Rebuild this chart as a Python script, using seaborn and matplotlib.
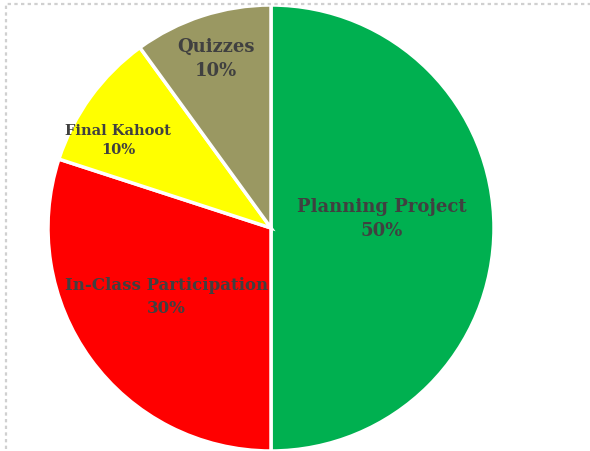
import numpy as np
import matplotlib.pyplot as plt
import seaborn as sns
from matplotlib.patches import Rectangle

# Grade breakdown
categories = ['Planning Project', 'In-Class Participation', 'Final Kahoot', 'Quizzes']
shares     = [50, 30, 10, 10]
colors     = ['#00B050', '#FF0000', '#FFFF00', '#9A9862']

# label placement (radius, angle shift in deg, font size) per slice
label_pos = [(0.50, 5, 13), (0.56, -3, 12), (0.79, 6, 10.5), (0.80, 0, 13)]

sns.set_theme(style='white')
plt.rcParams['font.family'] = ['DejaVu Serif']

fig = plt.figure(figsize=(5.9, 4.52), dpi=100)
W, H = 590, 452
cx, cy, r = 271, 229, 223
ax = fig.add_axes([(cx - r) / W, (H - cy - r) / H, 2 * r / W, 2 * r / H])

wedges, _ = ax.pie(shares, colors=colors, startangle=90, counterclock=False,
                   wedgeprops=dict(edgecolor='white', linewidth=2.5))
ax.set_xlim(-1, 1)
ax.set_ylim(-1, 1)
ax.set_aspect('equal')
ax.axis('off')

for w, name, pct, (rad, shift, size) in zip(wedges, categories, shares, label_pos):
    ang = np.deg2rad((w.theta1 + w.theta2) / 2 + shift)
    ax.text(rad * np.cos(ang), rad * np.sin(ang), f'{name}\n{pct}%',
            ha='center', va='center', fontsize=size, fontweight='bold',
            color='#404040', linespacing=1.45)

# dotted chart-area border
fig.patches.append(Rectangle((6 / W, -0.1), 1.0, (H - 5) / H + 0.1,
                             transform=fig.transFigure, fill=False,
                             edgecolor='#D0D0D0', linewidth=1.6,
                             linestyle=(0, (1.5, 1.5))))

plt.savefig('out.png', dpi=100)
